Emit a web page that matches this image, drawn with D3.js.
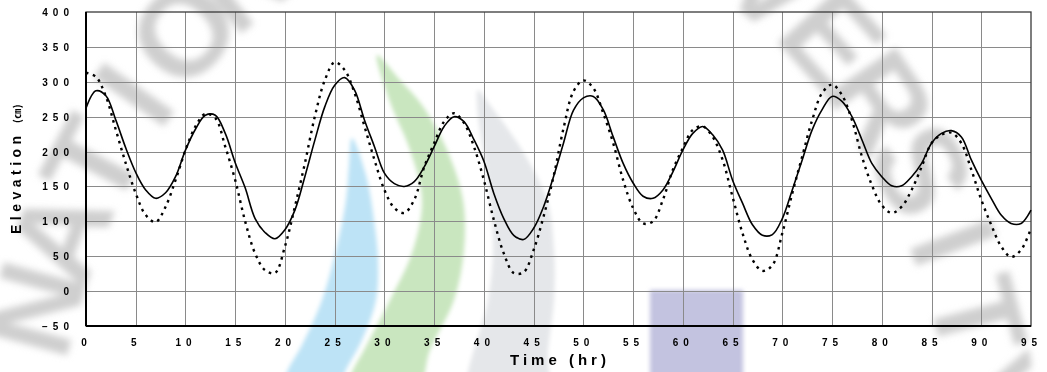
<!DOCTYPE html>
<html>
<head>
<meta charset="utf-8">
<script src="https://cdn.jsdelivr.net/npm/d3@7/dist/d3.min.js"></script>
<style>
  html, body { margin: 0; padding: 0; background: #fff; }
  svg { display: block; }
</style>
</head>
<body>
<svg id="chart" width="1047" height="372"></svg>
<script>
// Hourly water surface elevation (cm), two records over 95 hours
const hours = [0,1,2,3,4,5,6,7,8,9,10,11,12,13,14,15,16,17,18,19,20,21,22,23,24,25,26,27,28,29,
  30,31,32,33,34,35,36,37,38,39,40,41,42,43,44,45,46,47,48,49,50,51,52,53,54,55,56,57,58,59,
  60,61,62,63,64,65,66,67,68,69,70,71,72,73,74,75,76,77,78,79,80,81,82,83,84,85,86,87,88,89,
  90,91,92,93,94,95];

const solidSeries = [262,287,280,245,205,170,145,133,141,164,202,232,252,252,226,184,148,104,84,75,
  88,116,164,216,264,295,306,288,245,207,169,154,150,157,178,207,236,250,243,217,
  186,140,104,80,74,90,121,164,212,259,277,279,260,221,183,155,136,133,145,171,
  202,226,236,224,202,159,126,95,80,81,104,145,188,231,260,279,272,250,217,183,
  164,151,151,164,183,212,226,230,221,188,159,133,109,97,97,116];

const dottedSeries = [313,307,279,231,183,140,109,99,121,159,202,236,254,248,207,159,100,54,30,26,
  64,121,183,250,302,328,317,284,236,188,145,119,112,131,178,212,243,255,241,207,
  159,102,54,26,27,59,107,164,233,286,302,291,255,212,159,119,97,100,131,174,
  205,231,236,221,188,135,83,45,29,37,83,140,193,245,284,296,281,245,193,152,
  123,112,121,145,178,212,224,227,212,174,131,95,64,49,59,90];

const xTicks = [0,5,10,15,20,25,30,35,40,45,50,55,60,65,70,75,80,85,90,95];
const yTicks = [-50,0,50,100,150,200,250,300,350,400];

const xTitle = "Time (hr)";
const yTitleMain = "Elevation ";
const yTitleUnit = "(㎝)";

// Background emblem: lettering and coloured bands
const emblemText = "NATIONAL UNIVERSITY";
const blueBand = [[352,138],[366,175],[374,220],[378,260],[376,300],[362,340],[345,372],[338,392],
  [282,392],[287,372],[302,345],[322,300],[336,250],[346,200],[349,165]];
const greenBand = [[377,55],[400,80],[422,105],[447,150],[463,200],[464,250],[454,300],[430,350],[416,392],
  [346,392],[352,372],[364,350],[390,300],[413,250],[422,200],[410,150],[390,102]];
const greyBand = [[478,90],[490,105],[522,150],[547,200],[554,250],[554,300],[548,350],[545,392],
  [466,392],[468,372],[480,330],[488,300],[493,250],[490,200],[483,150],[477,105]];

const W = 1047, H = 372;
const margin = { left: 86, top: 12, right: 16, bottom: 46 };

const svg = d3.select("#chart");
const defs = svg.append("defs");
defs.append("filter").attr("id", "soft").attr("x", "-10%").attr("y", "-10%").attr("width", "120%").attr("height", "120%")
  .append("feGaussianBlur").attr("stdDeviation", 2);
defs.append("filter").attr("id", "softer").attr("x", "-30%").attr("y", "-30%").attr("width", "160%").attr("height", "160%")
  .append("feGaussianBlur").attr("stdDeviation", 3.5);

svg.append("rect").attr("width", W).attr("height", H).attr("fill", "#fff");

// ---- emblem behind the chart ----
const emblem = svg.append("g");
const band = d3.line().curve(d3.curveCatmullRomClosed);
emblem.append("path").attr("d", band(greyBand)).attr("fill", "#e5e7ea").attr("filter", "url(#soft)");
emblem.append("path").attr("d", band(greenBand)).attr("fill", "#c9e6bf").attr("filter", "url(#soft)");
emblem.append("path").attr("d", band(blueBand)).attr("fill", "#bde3f6").attr("filter", "url(#soft)");
emblem.append("rect").attr("x", 650).attr("y", 290).attr("width", 93).attr("height", 90)
  .attr("fill", "#c3c3e0").attr("filter", "url(#soft)");

// lettering set one glyph at a time, evenly spaced along an elliptical arc
const cx = 505, cy = 520, rx = 455, ry = 595;
const a0 = 196 * Math.PI / 180, a1 = 352 * Math.PI / 180;
const p0 = [cx + rx * Math.cos(a0), cy + ry * Math.sin(a0)];
const p1 = [cx + rx * Math.cos(a1), cy + ry * Math.sin(a1)];
const arcNode = defs.append("path")
  .attr("d", `M${p0[0]},${p0[1]} A${rx},${ry} 0 0 1 ${p1[0]},${p1[1]}`).node();
const arcLen = arcNode.getTotalLength();
const step = arcLen / emblemText.length;
const glyphs = emblemText.split("").map((ch, i) => {
  const s = (i + 0.5) * step;
  const p = arcNode.getPointAtLength(s);
  const q = arcNode.getPointAtLength(Math.min(arcLen, s + 1));
  const r = arcNode.getPointAtLength(Math.max(0, s - 1));
  return { ch, x: p.x, y: p.y, angle: Math.atan2(q.y - r.y, q.x - r.x) * 180 / Math.PI };
}).filter(g => g.ch !== " ");
const letters = emblem.append("g")
  .attr("font-family", "Liberation Sans, Arial, sans-serif")
  .attr("font-weight", "bold")
  .attr("font-size", 124)
  .attr("fill", "#cfcfcf")
  .attr("filter", "url(#softer)");
letters.selectAll("text").data(glyphs).join("text")
  .attr("text-anchor", "middle")
  .attr("transform", g => `translate(${g.x},${g.y}) rotate(${g.angle})`)
  .text(g => g.ch);

// ---- scales ----
const x = d3.scaleLinear().domain([0, 95]).range([margin.left, W - margin.right]);
const y = d3.scaleLinear().domain([-50, 400]).range([H - margin.bottom, margin.top]);

// ---- grid ----
const grid = svg.append("g").attr("stroke", "#8a8a8a").attr("stroke-width", 1).attr("shape-rendering", "crispEdges");
grid.selectAll("line.v").data(xTicks.slice(1, -1)).join("line")
  .attr("x1", d => Math.round(x(d)) + 0.5).attr("x2", d => Math.round(x(d)) + 0.5)
  .attr("y1", y(400)).attr("y2", y(-50));
grid.selectAll("line.h").data(yTicks.slice(1, -1)).join("line")
  .attr("y1", d => Math.round(y(d)) + 0.5).attr("y2", d => Math.round(y(d)) + 0.5)
  .attr("x1", x(0)).attr("x2", x(95));

// ---- frame ----
svg.append("rect")
  .attr("x", x(0)).attr("y", y(400))
  .attr("width", x(95) - x(0)).attr("height", y(-50) - y(400))
  .attr("fill", "none").attr("stroke", "#3a3a3a").attr("stroke-width", 1.3);
svg.append("line").attr("x1", x(0)).attr("x2", x(0)).attr("y1", y(400)).attr("y2", y(-50))
  .attr("stroke", "#000").attr("stroke-width", 2);
svg.append("line").attr("x1", x(0)).attr("x2", x(95)).attr("y1", y(-50)).attr("y2", y(-50))
  .attr("stroke", "#000").attr("stroke-width", 2);

// ---- series ----
const solidPts = hours.map((h, i) => [h, solidSeries[i]]);
const dottedPts = hours.map((h, i) => [h, dottedSeries[i]]);
const line = d3.line().x(d => x(d[0])).y(d => y(d[1])).curve(d3.curveCatmullRom.alpha(0.5));

svg.append("path").attr("d", line(dottedPts))
  .attr("fill", "none").attr("stroke", "#000").attr("stroke-width", 2.4)
  .attr("stroke-dasharray", "2.6 4.6");
svg.append("path").attr("d", line(solidPts))
  .attr("fill", "none").attr("stroke", "#000").attr("stroke-width", 1.6)
  .attr("stroke-linejoin", "round");

// ---- axes (labels only; lines drawn by the frame) ----
const font = "Liberation Sans, Arial, sans-serif";
const xAxis = d3.axisBottom(x).tickValues(xTicks).tickSize(0).tickPadding(0).tickFormat(d3.format("d"));
const gx = svg.append("g").attr("transform", `translate(0,${H - margin.bottom})`).call(xAxis);
gx.select(".domain").remove();
gx.selectAll("text")
  .attr("y", 20).attr("dy", null)
  .attr("font-family", font).attr("font-weight", "bold").attr("font-size", 10)
  .attr("letter-spacing", 5).attr("fill", "#000");

const yAxis = d3.axisLeft(y).tickValues(yTicks).tickSize(0).tickPadding(0).tickFormat(d3.format("d"));
const gy = svg.append("g").attr("transform", `translate(${margin.left},0)`).call(yAxis);
gy.select(".domain").remove();
gy.selectAll("text")
  .attr("x", -12).attr("dy", "0.35em")
  .attr("font-family", font).attr("font-weight", "bold").attr("font-size", 10)
  .attr("letter-spacing", 5).attr("fill", "#000");

// ---- titles ----
svg.append("text")
  .attr("x", 560).attr("y", 365)
  .attr("text-anchor", "middle")
  .attr("font-family", font).attr("font-weight", "bold").attr("font-size", 15)
  .attr("letter-spacing", 4).attr("fill", "#000")
  .text(xTitle);

const yt = svg.append("text")
  .attr("transform", `translate(21,169) rotate(-90)`)
  .attr("text-anchor", "middle")
  .attr("font-family", font).attr("font-weight", "bold").attr("font-size", 14)
  .attr("letter-spacing", 4.5).attr("fill", "#000");
yt.append("tspan").text(yTitleMain);
yt.append("tspan")
  .attr("font-family", "Noto Sans CJK KR, Noto Sans CJK SC, sans-serif")
  .attr("font-size", 10).attr("letter-spacing", 0.5)
  .text(yTitleUnit);
</script>
</body>
</html>
